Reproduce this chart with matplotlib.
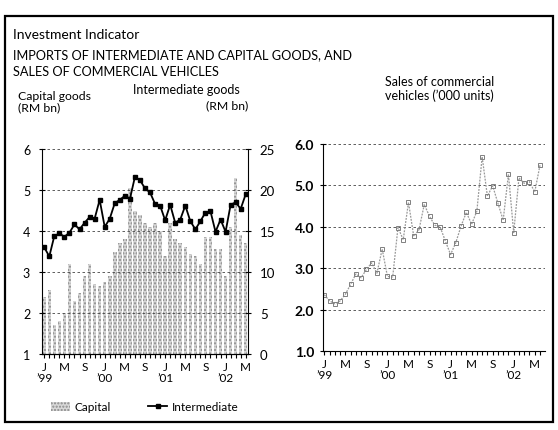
import numpy as np
import matplotlib
matplotlib.use("Agg")
import matplotlib.pyplot as plt
from matplotlib.patches import Rectangle, Patch
from matplotlib.lines import Line2D

plt.rcParams['font.family'] = ['Lato', 'DejaVu Sans']

# monthly data, Jan 1999 onwards
capital = [2.4, 2.55, 1.7, 1.8, 2.0, 3.2, 2.3, 2.5, 2.9, 3.2, 2.7, 2.65,
           2.75, 2.9, 3.5, 3.7, 3.8, 5.05, 4.5, 4.4, 4.2, 4.1, 4.2, 4.0,
           3.4, 4.2, 3.8, 3.7, 3.6, 3.45, 3.4, 3.2, 3.85, 3.85, 3.55, 3.55,
           2.9, 4.1, 5.3, 3.9, 3.7]                      # RM bn, left axis
intermediate = [13.0, 11.9, 14.4, 14.7, 14.3, 14.8, 15.8, 15.2, 16.0, 16.7, 16.5, 18.8,
                15.5, 16.5, 18.4, 18.8, 19.3, 18.9, 21.6, 21.2, 20.2, 19.7, 18.3, 18.1,
                16.3, 18.2, 16.0, 16.4, 18.1, 16.2, 15.2, 16.2, 17.25, 17.4, 14.9, 16.4,
                14.9, 18.2, 18.5, 17.7, 19.5]            # RM bn, right axis
vehicles = [2.36, 2.21, 2.14, 2.21, 2.37, 2.61, 2.86, 2.77, 2.97, 3.13, 2.88, 3.46,
            2.80, 2.79, 3.98, 3.69, 4.59, 3.77, 3.93, 4.54, 4.25, 4.04, 4.0, 3.66,
            3.33, 3.62, 4.02, 4.35, 4.06, 4.38, 5.69, 4.74, 4.99, 4.57, 4.16, 5.27,
            3.86, 5.18, 5.05, 5.09, 4.84, 5.49]           # '000 units

month_ticks = [0, 4, 8, 12, 16, 20, 24, 28, 32, 36, 40]
month_labels = ["J\n\u201999", "M", "S", "J\n\u201900", "M", "S",
                "J\n\u201901", "M", "S", "J\n\u201902", "M"]

W, H = 558, 431
fig = plt.figure(figsize=(W/100, H/100), dpi=100)

def fx(px): return px / W
def fy(py): return 1 - py / H

# outer frame
fig.patches.append(Rectangle((fx(5), fy(423)), fx(548), (423-17)/H, transform=fig.transFigure,
                             fill=False, lw=1.6, ec='black'))

fig.text(fx(13), fy(35), "Investment Indicator", fontsize=10, va='center')
fig.text(fx(13), fy(55), "IMPORTS OF INTERMEDIATE AND CAPITAL GOODS, AND", fontsize=9.2, va='center')
fig.text(fx(13), fy(72), "SALES OF COMMERCIAL VEHICLES", fontsize=9.2, va='center')
fig.text(fx(18), fy(96), "Capital goods", fontsize=8.8, va='center')
fig.text(fx(18), fy(108), "(RM bn)", fontsize=8.8, va='center')
fig.text(fx(133), fy(90), "Intermediate goods", fontsize=9, va='center')
fig.text(fx(248), fy(106), "(RM bn)", fontsize=8.8, va='center', ha='right')
fig.text(fx(385), fy(82), "Sales of commercial", fontsize=9, va='center')
fig.text(fx(385), fy(96), "vehicles (\u2019000 units)", fontsize=9, va='center')

def style_xaxis(ax, n):
    ax.set_xticks(month_ticks)
    ax.set_xticklabels(month_labels, fontsize=8.5, linespacing=1.0)
    ax.set_xticks(np.arange(n), minor=True)
    ax.tick_params(axis='x', which='both', direction='out', length=3, width=0.8, pad=2)
    ax.spines['top'].set_visible(False)

# ---- left chart
ax = fig.add_axes([fx(42), fy(355), fx(248-42), (355-150)/H])
x1 = np.arange(len(capital))
ax.bar(x1, np.array(capital) - 1, bottom=1, width=0.7, color='#d8d8d8',
       edgecolor='#8a8a8a', hatch='.....', lw=0, zorder=1)
ax.set_ylim(1, 6)
ax.set_xlim(-0.45, len(capital) - 0.55)
ax.set_yticks([1, 2, 3, 4, 5, 6])
ax.tick_params(axis='y', direction='inout', length=5, labelsize=9, pad=6)
ax.grid(axis='y', ls=(0, (3, 3)), color='#444444', lw=0.6)
ax.set_axisbelow(False)
style_xaxis(ax, len(capital))
ax.spines['right'].set_visible(False)

ax2 = ax.twinx()
ax2.plot(x1, intermediate, color='black', lw=1.3, marker='s', ms=2.8, zorder=4)
ax2.set_ylim(0, 25)
ax2.set_yticks([0, 5, 10, 15, 20, 25])
ax2.tick_params(axis='y', direction='inout', length=5, labelsize=9.5, pad=6)
ax2.spines['top'].set_visible(False)
ax2.spines['left'].set_visible(False)

# ---- right chart
ax3 = fig.add_axes([fx(323), fy(352), fx(545-323), (352-145)/H])
x2 = np.arange(len(vehicles))
ax3.plot(x2, vehicles, color='#999999', lw=0.9, ls=(0, (1.5, 1)), marker='s', ms=2.6,
         mfc='none', mec='#808080', mew=0.7)
ax3.set_ylim(1, 6)
ax3.set_xlim(-0.25, len(vehicles) - 0.05)
ax3.set_yticks([1, 2, 3, 4, 5, 6])
ax3.set_yticklabels(["1.0", "2.0", "3.0", "4.0", "5.0", "6.0"], fontweight='bold')
ax3.tick_params(axis='y', direction='inout', length=5, labelsize=10, pad=4)
ax3.grid(axis='y', ls=(0, (3, 3)), color='#444444', lw=0.6)
style_xaxis(ax3, len(vehicles))
ax3.spines['right'].set_visible(False)

handles = [Patch(facecolor='#d8d8d8', edgecolor='#8a8a8a', hatch='.....', lw=0),
           Line2D([], [], color='black', lw=1.3, marker='s', ms=2.8)]
fig.legend(handles, ["Capital", "Intermediate"], loc='center left',
           bbox_to_anchor=(fx(40), fy(408)), ncol=2, frameon=False, fontsize=8.5,
           handlelength=1.6, columnspacing=3.2, handletextpad=0.4)

fig.savefig("out.png", dpi=100)
